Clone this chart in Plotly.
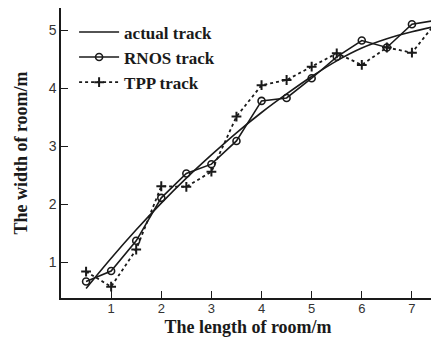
import plotly.graph_objects as go

actual_x = [0.5, 1.0, 1.5, 2.0, 2.5, 3.0, 3.5, 4.0, 4.5, 5.0, 5.5, 6.0, 6.5, 7.0, 7.5]
actual_y = [0.55, 1.07, 1.56, 2.02, 2.45, 2.85, 3.23, 3.58, 3.9, 4.2, 4.47, 4.69, 4.85, 4.97, 5.07]

rnos_x = [0.5, 1.0, 1.5, 2.0, 2.5, 3.0, 3.5, 4.0, 4.5, 5.0, 5.5, 6.0, 6.5, 7.0, 7.5]
rnos_y = [0.67, 0.85, 1.37, 2.11, 2.53, 2.69, 3.09, 3.78, 3.83, 4.17, 4.54, 4.82, 4.70, 5.10, 5.17]

tpp_x = [0.5, 1.0, 1.5, 2.0, 2.5, 3.0, 3.5, 4.0, 4.5, 5.0, 5.5, 6.0, 6.5, 7.0, 7.5]
tpp_y = [0.84, 0.58, 1.22, 2.31, 2.30, 2.56, 3.51, 4.05, 4.14, 4.37, 4.60, 4.40, 4.70, 4.61, 5.15]

x_ticks = [1, 2, 3, 4, 5, 6, 7]
y_ticks = [1, 2, 3, 4, 5]

ink = "#1a1a1a"
fig = go.Figure()
fig.add_trace(go.Scatter(x=actual_x, y=actual_y, mode="lines", name="actual track",
                         line=dict(color=ink, width=1.6, shape="spline", smoothing=1.0)))
fig.add_trace(go.Scatter(x=rnos_x, y=rnos_y, mode="lines+markers", name="RNOS track",
                         line=dict(color=ink, width=1.6),
                         marker=dict(symbol="circle-open", size=7, color=ink, line=dict(width=1.6))))
fig.add_trace(go.Scatter(x=tpp_x, y=tpp_y, mode="lines+markers", name="TPP track",
                         line=dict(color=ink, width=1.8, dash="dot"),
                         marker=dict(symbol="cross-thin-open", size=7, color=ink, line=dict(width=2, color=ink))))

axis_common = dict(showgrid=False, zeroline=False, showline=True, linecolor=ink, linewidth=1.5,
                   mirror=True, ticks="inside", ticklen=7, tickwidth=1.2, tickcolor=ink,
                   automargin=False)
fig.update_xaxes(range=[0, 7.46], tickvals=x_ticks, **axis_common, ticklabelstandoff=-2,
                 tickfont=dict(family="Liberation Sans, Arial", size=13, color="#333"),
                 title=dict(text="<b>The length of room/m</b>",
                            font=dict(family="Liberation Serif, Times New Roman", size=18, color=ink)))
fig.update_yaxes(range=[0.385, 5.38], tickvals=y_ticks, **axis_common,
                 tickfont=dict(family="Liberation Sans, Arial", size=14, color="#333"),
                 title=dict(text="<b>The width of room/m</b>", standoff=16,
                            font=dict(family="Liberation Serif, Times New Roman", size=18, color=ink)))

# the page body adds an 8px margin, so the figure is sized to fit the visible window
fig.update_layout(
    width=431, height=329,
    margin=dict(l=53, r=4, t=0, b=39),
    plot_bgcolor="white", paper_bgcolor="white",
    legend=dict(x=0.035, y=0.978, xanchor="left", yanchor="top", bgcolor="rgba(0,0,0,0)",
                font=dict(family="Liberation Serif, Times New Roman", size=17, color=ink),
                itemwidth=40, tracegroupgap=0),
)
fig.for_each_trace(lambda t: t.update(name="<b>" + t.name + "</b>"))

fig.write_html("out.html")
